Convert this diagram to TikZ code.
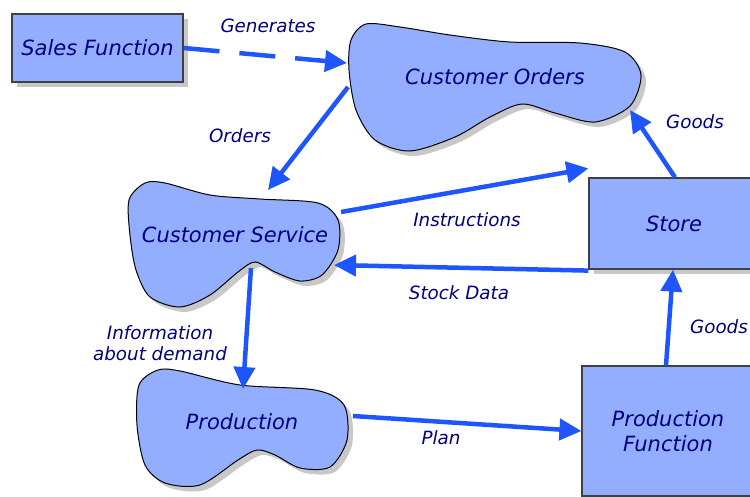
\documentclass[tikz,border=0pt]{standalone}
\usepackage{fontspec}
\setmainfont{DejaVu Sans}
\usetikzlibrary{arrows.meta,shadows}
\definecolor{blobfill}{HTML}{94AEFF}
\definecolor{flowblue}{HTML}{1F55FF}
\definecolor{textnavy}{HTML}{000080}
\definecolor{shadowgrey}{HTML}{C8C8C8}
\tikzset{
  unitbox/.style={draw=black!75, fill=blobfill, line width=1.2pt, text=textnavy,
    font=\fontsize{21}{25}\selectfont\itshape, align=center,
    drop shadow={shadow xshift=5pt, shadow yshift=-5pt, fill=shadowgrey, opacity=1}},
  blobline/.style={draw=black, fill=blobfill, line width=1pt},
  blobshadow/.style={fill=shadowgrey},
  unitname/.style={text=textnavy, font=\fontsize{21}{25}\selectfont\itshape},
  flow/.style={draw=flowblue, line width=4.5pt, -{Triangle[length=22pt,width=21pt]}},
  flowlabel/.style={text=textnavy, font=\fontsize{18.3}{21}\selectfont\itshape, align=center}
}
\begin{document}
\begin{tikzpicture}[x=1pt,y=-1pt]
  \useasboundingbox (0,0) rectangle (750,496);
  \clip (0,0) rectangle (750,496);
  \fill[white] (0,0) rectangle (750,496);
  \begin{scope}[shift={(5,5)}]
    \fill[blobshadow] plot[smooth cycle] coordinates {(351,40) (366,24) (400,27) (450,35) (510,42) (580,43) (625,52) (641,75) (630,106) (595,122) (555,113) (522,104) (490,117) (455,137) (410,151) (375,140) (356,110) (349,70)};
    \fill[blobshadow] plot[smooth cycle] coordinates {(129,200) (145,183) (165,183) (210,195) (260,199) (318,203) (338,220) (338,250) (322,275) (300,281) (275,272) (255,262) (238,272) (210,295) (180,307) (150,297) (136,270) (130,235)};
    \fill[blobshadow] plot[smooth cycle] coordinates {(139,385) (158,370) (180,371) (240,385) (315,390) (344,405) (347,440) (330,467) (300,468) (275,455) (257,450) (238,460) (200,485) (165,483) (145,465) (137,425)};
  \end{scope}
  \draw[blobline] plot[smooth cycle] coordinates {(351,40) (366,24) (400,27) (450,35) (510,42) (580,43) (625,52) (641,75) (630,106) (595,122) (555,113) (522,104) (490,117) (455,137) (410,151) (375,140) (356,110) (349,70)};
  \draw[blobline] plot[smooth cycle] coordinates {(129,200) (145,183) (165,183) (210,195) (260,199) (318,203) (338,220) (338,250) (322,275) (300,281) (275,272) (255,262) (238,272) (210,295) (180,307) (150,297) (136,270) (130,235)};
  \draw[blobline] plot[smooth cycle] coordinates {(139,385) (158,370) (180,371) (240,385) (315,390) (344,405) (347,440) (330,467) (300,468) (275,455) (257,450) (238,460) (200,485) (165,483) (145,465) (137,425)};

  \node[unitbox, minimum width=171pt, minimum height=68pt] (sales) at (97.5,48) {Sales Function};
  \node[unitbox, minimum width=170pt, minimum height=91pt] (store) at (674,223.5) {Store};
  \node[unitbox, minimum width=172pt, minimum height=130pt] (prodfn) at (668,431) {Production\\Function};
  \node[unitname] (orders) at (495,77) {Customer Orders};
  \node[unitname] (service) at (235,235) {Customer Service};
  \node[unitname] (production) at (242,422) {Production};

  \coordinate (orders-w) at (347,63);
  \coordinate (orders-sw) at (348,87);
  \coordinate (orders-se) at (630,110);
  \coordinate (service-n) at (268,190);
  \coordinate (service-ne) at (341,212);
  \coordinate (service-e) at (334,265);
  \coordinate (service-s) at (251,268);
  \coordinate (production-n) at (243,389);
  \coordinate (production-e) at (353,416);
  \coordinate (store-n) at ([xshift=1pt]store.north);
  \coordinate (store-nw) at ([yshift=9pt]store.north west);
  \coordinate (store-sw) at ([yshift=-1pt]store.south west);

  \begin{scope}
    \draw[flow, dash pattern=on 36pt off 20pt] (sales.east) -- (orders-w);
    \draw[flow] (orders-sw) -- (service-n);
    \draw[flow] (store-n) -- (orders-se);
    \draw[flow] (service-ne) -- (store-nw);
    \draw[flow] (store-sw) -- (service-e);
    \draw[flow] (service-s) -- (production-n);
    \draw[flow] (production-e) -- (prodfn.west);
    \draw[flow] ([xshift=-2pt]prodfn.north) -- ([xshift=-1pt]store.south);
  \end{scope}

  \node[flowlabel] (l-generates) at (268,26) {Generates};
  \node[flowlabel] (l-orders) at (240,136) {Orders};
  \node[flowlabel] (l-goods-top) at (695,122) {Goods};
  \node[flowlabel] (l-instructions) at (467,220) {Instructions};
  \node[flowlabel] (l-stock) at (459,293) {Stock Data};
  \node[flowlabel] (l-info) at (160,343) {Information\\about demand};
  \node[flowlabel] (l-plan) at (441,438) {Plan};
  \node[flowlabel] (l-goods-low) at (719,327) {Goods};
\end{tikzpicture}
\end{document}
